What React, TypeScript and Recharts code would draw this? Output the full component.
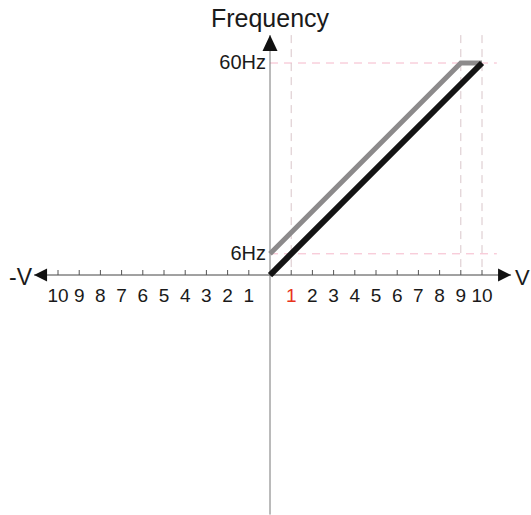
import {
  ComposedChart,
  Line,
  Scatter,
  XAxis,
  YAxis,
  ReferenceLine,
} from "recharts";

// voltage (V) and output frequency (Hz)
const blackVolts = [0, 10];
const blackFreq = [0, 60];
const greyVolts = [0, 9, 10];
const greyFreq = [6, 60, 60];

const xTicks = [-10, -9, -8, -7, -6, -5, -4, -3, -2, -1, 1, 2, 3, 4, 5, 6, 7, 8, 9, 10];
const xTickLabels = ["10", "9", "8", "7", "6", "5", "4", "3", "2", "1", "1", "2", "3", "4", "5", "6", "7", "8", "9", "10"];
const freqMarks = [6, 60];
const freqLabels = ["6Hz", "60Hz"];
const voltMarks = [1, 9, 10];

// axis extents (arrow tips)
const X_MIN = -11.13;
const X_MAX = 11.37;
const Y_MAX = 67.9;
const Y_MIN = -67.8;

const FONT = "'Liberation Sans', Arial, sans-serif";

const blackData = blackVolts.map((x, i) => ({ x, y: blackFreq[i] }));
const greyData = greyVolts.map((x, i) => ({ x, y: greyFreq[i] }));
const tickData = xTicks.map((x, i) => ({ x, y: 0, label: xTickLabels[i], red: x === 1 }));
const freqData = freqMarks.map((y, i) => ({ x: 0, y, label: freqLabels[i] }));
const arrowData = [
  { x: X_MIN, y: 0, dir: "left" },
  { x: X_MAX, y: 0, dir: "right" },
  { x: 0, y: Y_MAX, dir: "up" },
];

const TickShape = (props: any) => {
  const { cx, cy, payload } = props;
  return (
    <g>
      <line x1={cx} x2={cx} y1={cy - 5} y2={cy} stroke="#555" strokeWidth={1} />
      <text
        x={cx}
        y={cy + 27}
        textAnchor="middle"
        fontFamily={FONT}
        fontSize={19}
        fill={payload.red ? "#e8341c" : "#1a1a1a"}
      >
        {payload.label}
      </text>
    </g>
  );
};

const FreqShape = (props: any) => {
  const { cx, cy, payload } = props;
  return (
    <text x={cx - 4} y={cy + 6} textAnchor="end" fontFamily={FONT} fontSize={20} fill="#1a1a1a">
      {payload.label}
    </text>
  );
};

const ArrowShape = (props: any) => {
  const { cx, cy, payload } = props;
  if (payload.dir === "left") {
    return (
      <g>
        <polygon points={`${cx},${cy} ${cx + 13},${cy - 6.5} ${cx + 13},${cy + 6.5}`} fill="#111" />
        <text x={cx - 2} y={cy + 10} textAnchor="end" fontFamily={FONT} fontSize={23} fill="#1a1a1a">
          -V
        </text>
      </g>
    );
  }
  if (payload.dir === "right") {
    return (
      <g>
        <polygon points={`${cx},${cy} ${cx - 13},${cy - 6.5} ${cx - 13},${cy + 6.5}`} fill="#111" />
        <text x={cx + 4} y={cy + 10} textAnchor="start" fontFamily={FONT} fontSize={22} fill="#1a1a1a">
          V
        </text>
      </g>
    );
  }
  return (
    <g>
      <polygon points={`${cx},${cy} ${cx - 7.5},${cy + 16} ${cx + 7.5},${cy + 16}`} fill="#111" />
      <text x={cx} y={cy - 8} textAnchor="middle" fontFamily={FONT} fontSize={25} fill="#1a1a1a">
        Frequency
      </text>
    </g>
  );
};

export default function App() {
  return (
    <div style={{ position: "absolute", left: 0, top: 0, background: "#fff" }}>
      <ComposedChart width={531} height={515} margin={{ top: 0, right: 0, bottom: 0, left: 0 }}>
        <XAxis type="number" dataKey="x" domain={[-12.736, 12.311]} allowDataOverflow hide />
        <YAxis type="number" dataKey="y" domain={[-67.92, 77.83]} allowDataOverflow hide />

        {freqMarks.map((f) => (
          <ReferenceLine
            key={"h" + f}
            segment={[{ x: 0, y: f }, { x: 10.7, y: f }]}
            stroke="#f5b8ca"
            strokeWidth={1}
            strokeDasharray="8 6"
          />
        ))}
        {voltMarks.map((v) => (
          <ReferenceLine
            key={"v" + v}
            segment={[{ x: v, y: Y_MAX }, { x: v, y: 0.5 }]}
            stroke="#d9c6ca"
            strokeWidth={1}
            strokeDasharray="8 6"
          />
        ))}

        <ReferenceLine segment={[{ x: X_MIN, y: 0 }, { x: X_MAX, y: 0 }]} stroke="#444" strokeWidth={1} />
        <ReferenceLine segment={[{ x: 0, y: Y_MAX }, { x: 0, y: Y_MIN }]} stroke="#777" strokeWidth={1} />

        <Scatter data={tickData} dataKey="y" shape={TickShape} isAnimationActive={false} />
        <Scatter data={freqData} dataKey="y" shape={FreqShape} isAnimationActive={false} />
        <Scatter data={arrowData} dataKey="y" shape={ArrowShape} isAnimationActive={false} />

        <Line
          data={greyData}
          dataKey="y"
          type="linear"
          stroke="#8c8a8b"
          strokeWidth={5}
          strokeLinejoin="miter"
          dot={false}
          isAnimationActive={false}
        />
        <Line
          data={blackData}
          dataKey="y"
          type="linear"
          stroke="#141414"
          strokeWidth={6}
          dot={false}
          isAnimationActive={false}
        />
      </ComposedChart>
    </div>
  );
}
